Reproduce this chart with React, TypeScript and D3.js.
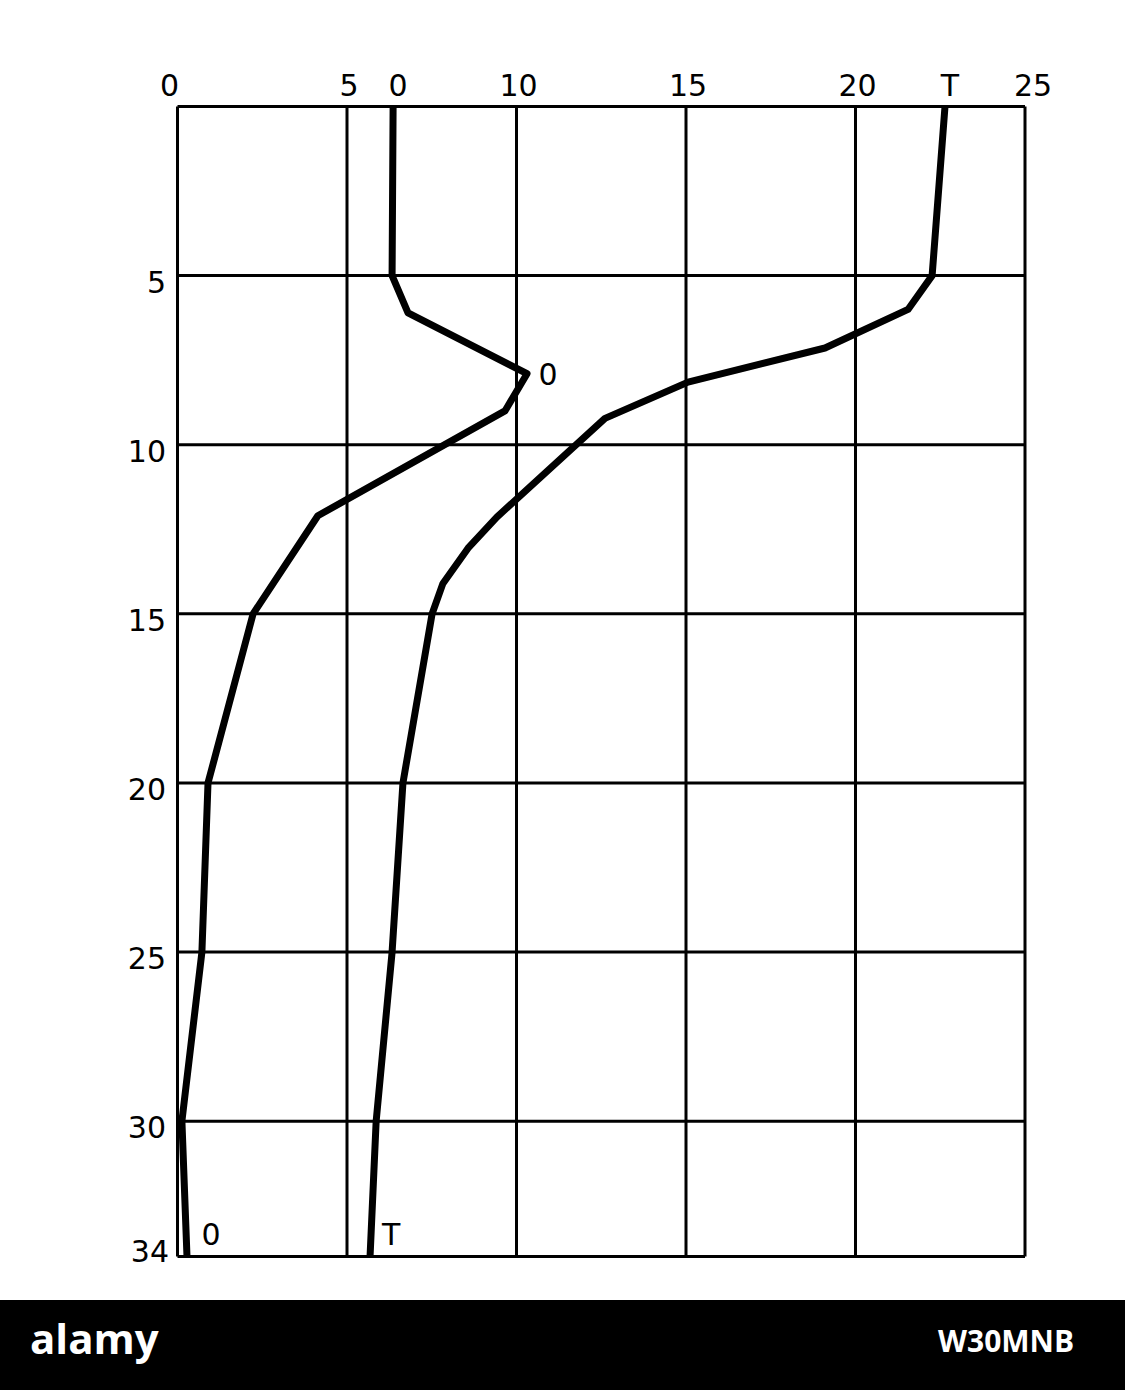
import React from "react";
import * as d3 from "d3";

// ---- data ----
const depthO: number[] = [0, 5, 6.1, 7.9, 9.0, 12.1, 15, 20, 25, 30, 34];
const valueO: number[] = [6.36, 6.33, 6.8, 10.31, 9.66, 4.14, 2.23, 0.9, 0.72, 0.13, 0.28];

const depthT: number[] = [0, 5, 6.0, 7.14, 8.15, 9.22, 12.14, 13.06, 14.1, 15, 20, 25, 30, 34];
const valueT: number[] = [22.64, 22.26, 21.55, 19.1, 15.06, 12.61, 9.42, 8.57, 7.83, 7.51, 6.65, 6.33, 5.86, 5.68];

const topTicks: number[] = [0, 5, 10, 15, 20, 25];
const depthTicks: number[] = [0, 5, 10, 15, 20, 25, 30, 34];
const depthLabels: number[] = [5, 10, 15, 20, 25, 30, 34];
const seriesNames: string[] = ["0", "T"];

const W = 1125;
const H = 1390;
const FONT = "'DejaVu Sans', sans-serif";

export default function App() {
  const x = d3.scaleLinear().domain([0, 25]).range([177.5, 1025]);
  const y = d3.scaleLinear().domain([0, 34]).range([106.5, 1256.5]);

  const line = d3
    .line<[number, number]>()
    .x((d) => x(d[0]))
    .y((d) => y(d[1]))
    .curve(d3.curveLinear);

  const ptsO: [number, number][] = valueO.map((v, i) => [v, depthO[i]]);
  const ptsT: [number, number][] = valueT.map((v, i) => [v, depthT[i]]);

  const peakIdx = d3.maxIndex(valueO);
  const lastO = ptsO[ptsO.length - 1];
  const lastT = ptsT[ptsT.length - 1];
  const maxDepth = depthTicks[depthTicks.length - 1];

  return (
    <svg
      width={W}
      height={H}
      style={{ position: "absolute", left: 0, top: 0, background: "#fff" }}
      fontFamily={FONT}
    >
      <rect x={0} y={0} width={W} height={H} fill="#fff" />
      {/* grid */}
      <g stroke="#000" strokeWidth={3} fill="none">
        {topTicks.map((t) => (
          <line key={"v" + t} x1={x(t)} x2={x(t)} y1={y(0)} y2={y(maxDepth)} />
        ))}
        {depthTicks.map((d) => (
          <line key={"h" + d} x1={x(0)} x2={x(25)} y1={y(d)} y2={y(d)} />
        ))}
      </g>

      {/* top labels */}
      <g fontSize={30} textAnchor="middle" fill="#000">
        {topTicks.map((t, i) => (
          <text key={"tt" + t} x={x(t) + (i === 0 ? -8 : i === topTicks.length - 1 ? 8 : 2)} y={96}>
            {t}
          </text>
        ))}
        <text x={x(valueO[0]) + 5} y={96}>{seriesNames[0]}</text>
        <text x={x(valueT[0]) + 5} y={96}>{seriesNames[1]}</text>
      </g>

      {/* left labels */}
      <g fontSize={30} textAnchor="end" fill="#000">
        {depthLabels.map((d, i) => (
          <text
            key={"dl" + d}
            x={i === depthLabels.length - 1 ? 169 : 166}
            y={y(d) + (i === depthLabels.length - 1 ? 5 : 17)}
          >
            {d}
          </text>
        ))}
      </g>

      {/* curves */}
      <path d={line(ptsO) || ""} fill="none" stroke="#000" strokeWidth={7} strokeLinejoin="round" />
      <path d={line(ptsT) || ""} fill="none" stroke="#000" strokeWidth={7} strokeLinejoin="round" />

      {/* curve labels */}
      <g fontSize={30} textAnchor="middle" fill="#000">
        <text x={x(valueO[peakIdx]) + 21} y={y(depthO[peakIdx]) + 11}>{seriesNames[0]}</text>
        <text x={x(lastO[0]) + 24} y={y(lastO[1]) - 12}>{seriesNames[0]}</text>
        <text x={x(lastT[0]) + 21} y={y(lastT[1]) - 12}>{seriesNames[1]}</text>
      </g>

      {/* bottom band */}
      <rect x={0} y={1300} width={W} height={H - 1300} fill="#000" />
      <text x={30} y={1354} fill="#fff" fontSize={42} fontWeight="bold" fontFamily="'Open Sans', sans-serif">
        alamy
      </text>
      <text x={938} y={1352} fill="#fff" fontSize={30} fontWeight="bold" fontFamily="'Open Sans', sans-serif">
        W30MNB
      </text>
    </svg>
  );
}
